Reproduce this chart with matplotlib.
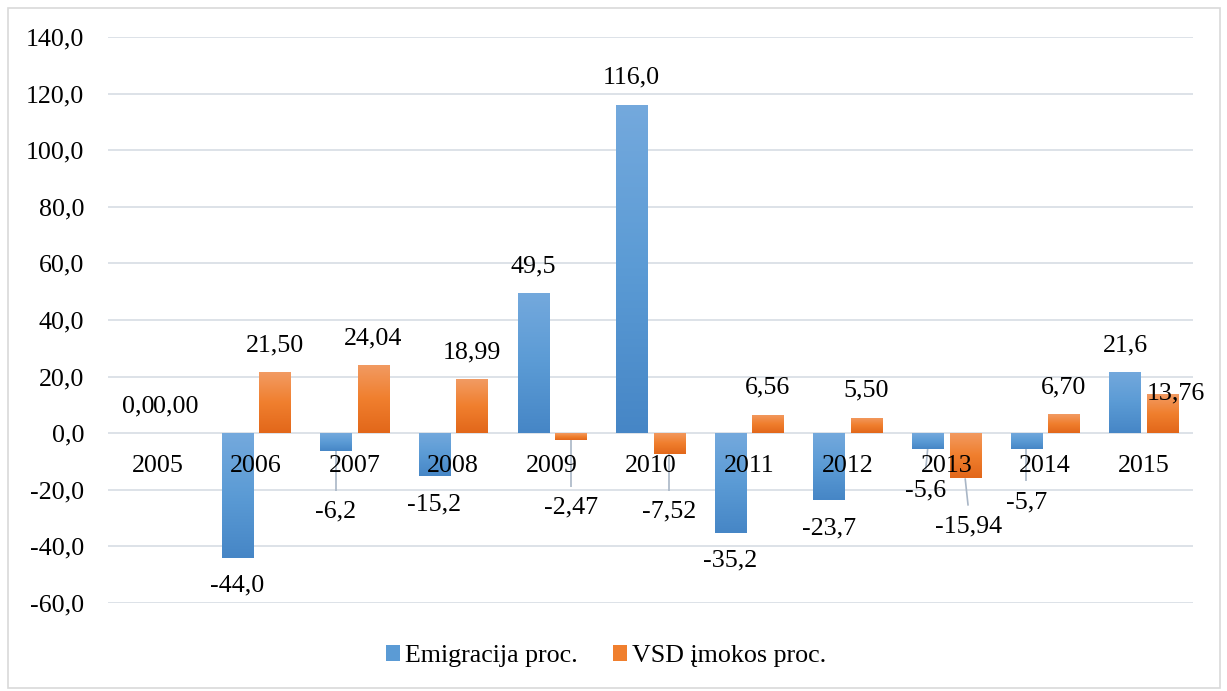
import numpy as np
import matplotlib
matplotlib.use("Agg")
import matplotlib.pyplot as plt
from matplotlib.patches import Rectangle, Patch
from matplotlib.colors import LinearSegmentedColormap

plt.rcParams['font.family'] = ['Liberation Serif', 'DejaVu Serif']

# ---- data -------------------------------------------------------------
years = ['2005', '2006', '2007', '2008', '2009', '2010',
         '2011', '2012', '2013', '2014', '2015']
emigracija = [0.0, -44.0, -6.2, -15.2, 49.5, 116.0, -35.2, -23.7, -5.6, -5.7, 21.6]
vsd = [0.00, 21.50, 24.04, 18.99, -2.47, -7.52, 6.56, 5.50, -15.94, 6.70, 13.76]
series_names = ['Emigracija proc.', 'VSD įmokos proc.']
y_ticks = [-60, -40, -20, 0, 20, 40, 60, 80, 100, 120, 140]

# ---- style ------------------------------------------------------------
FS = 18.7
GRID = '#DADFE6'
LEADER = '#A9B6C6'
blue_grad = ['#74A9DD', '#5B9BD5', '#4686C6']
orange_grad = ['#F29B63', '#F07F2E', '#E2671A']
bar_w = 0.315
offset = 0.19

# labels moved off their default place (data-coordinate centres, dx in categories)
moved = {
    (0, 2): (0.0, -27.8),
    (1, 4): (0.0, -26.4),
    (1, 5): (0.0, -27.8),
    (0, 8): (-0.02, -20.4),
    (1, 8): (0.03, -33.1),
    (0, 9): (0.0, -24.3),
    (1, 10): (0.14, 14.2),
}
no_leader = {(1, 10)}

W, H = 1227, 691
fig = plt.figure(figsize=(W / 100, H / 100), dpi=100)
ax = fig.add_axes([108 / W, 1 - 603 / H, (1193 - 108) / W, (603 - 37) / H])

x = np.arange(len(years))

def gradient_bars(xs, vals, colors):
    cmap = LinearSegmentedColormap.from_list('g', colors)
    bars = ax.bar(xs, vals, width=bar_w, facecolor='none', edgecolor='none', zorder=2)
    grad = np.linspace(0, 1, 256).reshape(-1, 1)
    for b in bars:
        x0, y0 = b.get_x(), b.get_y()
        w, h = b.get_width(), b.get_height()
        if h == 0:
            continue
        ylo, yhi = min(y0, y0 + h), max(y0, y0 + h)
        im = ax.imshow(grad, cmap=cmap, aspect='auto', origin='upper',
                       extent=(x0, x0 + w, ylo, yhi), zorder=2,
                       interpolation='bilinear')
        im.set_clip_path(b)
    return bars

gradient_bars(x - offset, emigracija, blue_grad)
gradient_bars(x + offset, vsd, orange_grad)
ax.set_xlim(-0.5, len(years) - 0.5)
ax.set_ylim(-60, 140)

# grid & axes
ax.set_yticks(y_ticks)
ax.set_yticklabels([f"{v:.1f}".replace('.', ',') for v in y_ticks], fontsize=FS)
ax.yaxis.grid(True, color=GRID, lw=1.3)
ax.set_axisbelow(True)
for s in ax.spines.values():
    s.set_visible(False)
ax.spines['bottom'].set_position(('data', 0))
ax.set_xticks(x)
ax.set_xticklabels(years, fontsize=FS)
ax.tick_params(axis='x', length=0, pad=16)
ax.tick_params(axis='y', length=0, pad=17)
ax.xaxis.set_zorder(5)   # category labels sit on top of the bars

# data labels
for si, (vals, dx, fmt) in enumerate([(emigracija, -offset, '{:.1f}'),
                                      (vsd, offset, '{:.2f}')]):
    for i, v in enumerate(vals):
        txt = fmt.format(v).replace('.', ',')
        bx = i + dx
        if (si, i) in moved:
            mdx, my = moved[(si, i)]
            lx = bx + mdx
            ax.text(lx, my, txt, ha='center', va='center', fontsize=FS, zorder=6)
            if (si, i) not in no_leader:
                ax.plot([bx, lx], [v, my + 7.5], color=LEADER, lw=1.2, zorder=4,
                        solid_capstyle='butt')
        else:
            dy = 19.5 if v >= 0 else -20
            ax.annotate(txt, (bx, v), xytext=(0, dy), textcoords='offset points',
                        ha='center', va='center', fontsize=FS, zorder=6)

# legend
handles = [Patch(facecolor=blue_grad[1], edgecolor='none'),
           Patch(facecolor=orange_grad[1], edgecolor='none')]
fig.legend(handles, series_names, loc='center', bbox_to_anchor=(0.494, 1 - 656 / H),
           ncol=2, frameon=False, fontsize=FS, handlelength=0.55, handleheight=0.55,
           handletextpad=0.2, columnspacing=1.35)

# chart frame
fig.patches.append(Rectangle((8 / W, 1 - 688 / H), (1220 - 8) / W, (688 - 8) / H,
                             transform=fig.transFigure, facecolor='none',
                             edgecolor='#D9D9D9', lw=1.2))

fig.savefig('out.png', dpi=100)
